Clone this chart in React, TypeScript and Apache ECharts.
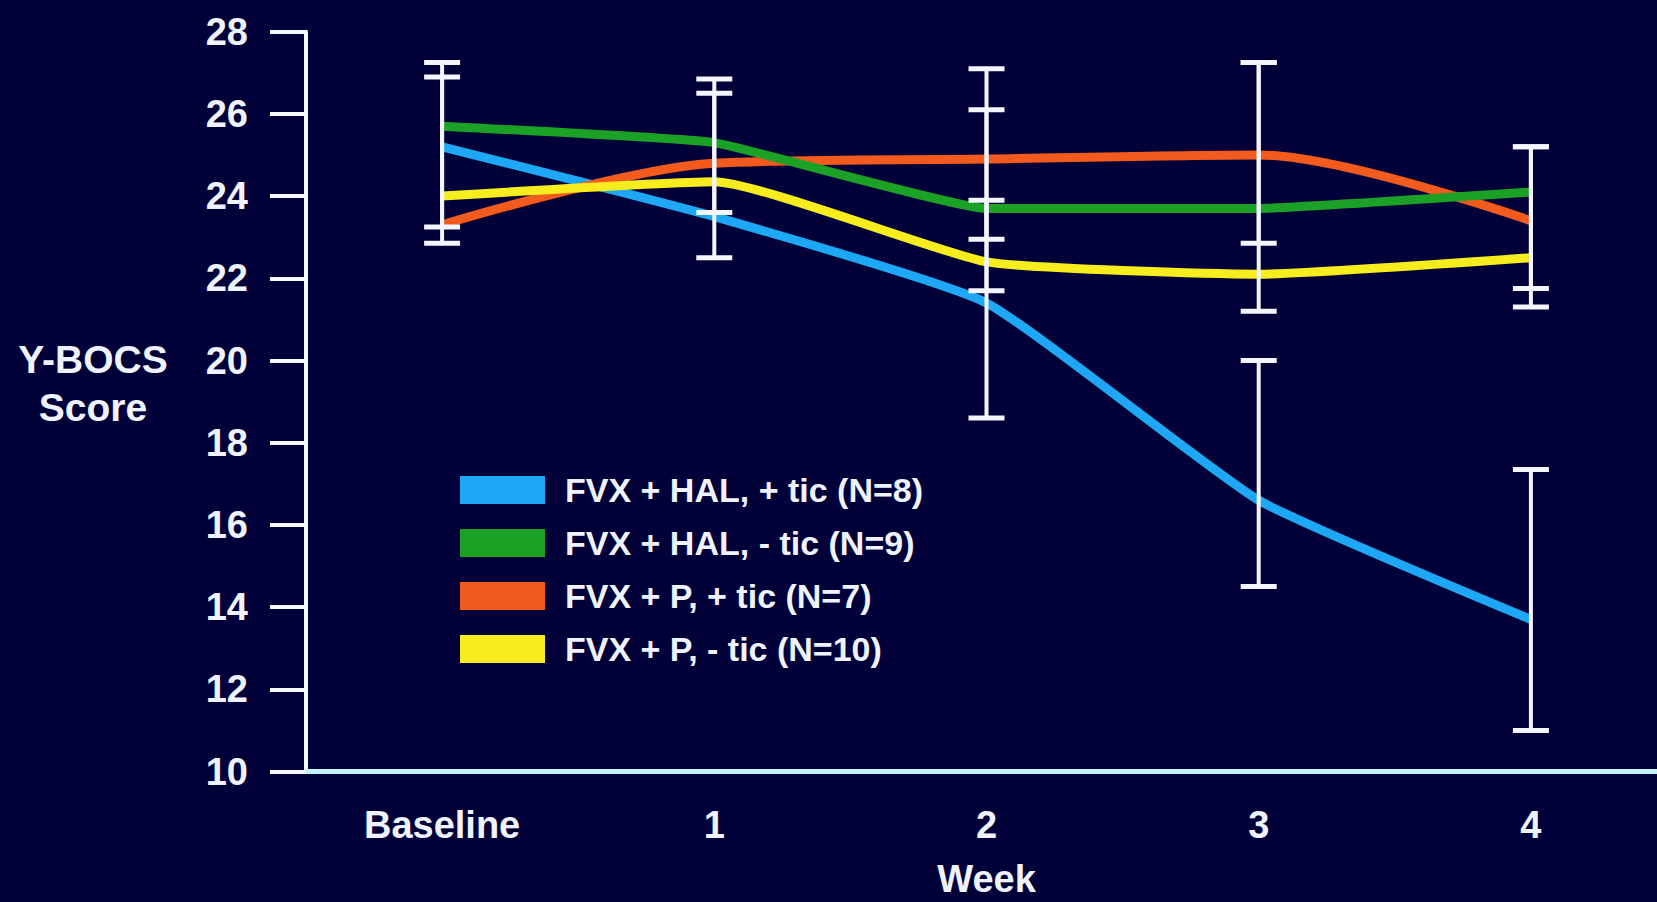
import React, { useEffect, useRef } from "react";
import * as echarts from "echarts";

const weeks = ["Baseline", "1", "2", "3", "4"];
const yTicks = [10, 12, 14, 16, 18, 20, 22, 24, 26, 28];

const seriesNames = [
  "FVX + HAL, + tic (N=8)",
  "FVX + HAL, - tic (N=9)",
  "FVX + P, + tic (N=7)",
  "FVX + P, - tic (N=10)",
];
const halTic = [25.2, 23.5, 21.4, 16.6, 13.7];
const halNoTic = [25.7, 25.3, 23.7, 23.7, 24.1];
const placeboTic = [23.3, 24.8, 24.9, 25.0, 23.4];
const placeboNoTic = [24.0, 24.35, 22.4, 22.1, 22.5];

// error bars: [week index, low, high]
const errorBars = [
  [0, 22.85, 27.25],
  [0, 23.25, 26.9],
  [1, 22.5, 26.85],
  [1, 23.6, 26.5],
  [2, 18.6, 23.9],
  [2, 21.7, 26.1],
  [2, 22.95, 27.1],
  [3, 21.2, 27.25],
  [3, 22.85, 27.25],
  [3, 14.5, 20.0],
  [4, 21.3, 25.2],
  [4, 21.75, 25.2],
  [4, 11.0, 17.35],
];

const colors = ["#1ea7f4", "#1ba126", "#f25a1e", "#f6ec1e"];
const FONT = "'Liberation Sans', Arial, sans-serif";
const TEXT = "#eef3ff";

export default function App() {
  const ref = useRef<HTMLDivElement>(null);
  useEffect(() => {
    if (!ref.current) return;
    const chart = echarts.init(ref.current, undefined, { renderer: "svg" });
    const values = [halTic, halNoTic, placeboTic, placeboNoTic];
    const zs = [2, 4, 3, 5];
    const smooths = [0.15, 0.1, 0.3, 0.15];
    chart.setOption({
      animation: false,
      backgroundColor: "#020038",
      grid: {
        left: 306,
        right: -10,
        top: 31.7,
        bottom: 130.5,
        containLabel: false,
        outerBoundsMode: "none",
      },
      legend: {
        orient: "vertical",
        left: 455,
        top: 468,
        itemWidth: 85,
        itemHeight: 28,
        itemGap: 19,
        icon: "rect",
        selectedMode: false,
        data: seriesNames,
        textStyle: {
          color: TEXT,
          fontSize: 34,
          fontWeight: "bold",
          fontFamily: FONT,
          lineHeight: 28,
          padding: [0, 0, 0, 15],
        },
      },
      xAxis: {
        type: "category",
        data: weeks,
        boundaryGap: true,
        name: "Week",
        nameLocation: "middle",
        nameGap: 88,
        nameTextStyle: { color: TEXT, fontSize: 38, lineHeight: 38, fontWeight: "bold", fontFamily: FONT },
        axisLine: { show: true, lineStyle: { color: "#c4f2ff", width: 5 } },
        axisTick: { show: false },
        axisLabel: { color: TEXT, fontSize: 38, fontWeight: "bold", fontFamily: FONT, margin: 34 },
        splitLine: { show: false },
      },
      yAxis: {
        type: "value",
        min: yTicks[0],
        max: yTicks[yTicks.length - 1],
        interval: 2,
        axisLine: { show: true, lineStyle: { color: "#f4f8ff", width: 4 } },
        axisTick: { show: true, length: 36, lineStyle: { color: "#f4f8ff", width: 4 } },
        axisLabel: { color: TEXT, fontSize: 38, fontWeight: "bold", fontFamily: FONT, margin: 58 },
        splitLine: { show: false },
      },
      graphic: [
        {
          type: "text",
          x: 93,
          y: 359,
          style: {
            text: "Y-BOCS",
            fill: TEXT,
            font: `bold 39px ${FONT}`,
            textAlign: "center",
            textVerticalAlign: "middle",
            align: "center",
            verticalAlign: "middle",
          },
        },
        {
          type: "text",
          x: 93,
          y: 407,
          style: {
            text: "Score",
            fill: TEXT,
            font: `bold 39px ${FONT}`,
            textAlign: "center",
            textVerticalAlign: "middle",
            align: "center",
            verticalAlign: "middle",
          },
        },
      ],
      series: [
        ...seriesNames.map((name, i) => ({
          name,
          type: "line",
          data: values[i],
          z: zs[i],
          smooth: smooths[i],
          symbol: "none",
          lineStyle: { color: colors[i], width: 9 },
          itemStyle: { color: colors[i] },
        })),
        {
          name: "errors",
          type: "custom",
          z: 10,
          data: errorBars,
          encode: { x: 0, y: [1, 2] },
          renderItem: (_params: any, api: any) => {
            const idx = api.value(0);
            const lo = api.coord([idx, api.value(1)]);
            const hi = api.coord([idx, api.value(2)]);
            const hw = 18;
            const st = { stroke: "#f4f6ff", lineWidth: 4 };
            const cap = { stroke: "#f4f6ff", lineWidth: 5 };
            return {
              type: "group",
              children: [
                { type: "line", shape: { x1: lo[0], y1: lo[1], x2: hi[0], y2: hi[1] }, style: st },
                { type: "line", shape: { x1: lo[0] - hw, y1: lo[1], x2: lo[0] + hw, y2: lo[1] }, style: cap },
                { type: "line", shape: { x1: hi[0] - hw, y1: hi[1], x2: hi[0] + hw, y2: hi[1] }, style: cap },
              ],
            };
          },
        },
      ],
    });
    return () => chart.dispose();
  }, []);
  return (
    <div
      ref={ref}
      style={{ position: "fixed", left: 0, top: 0, width: 1657, height: 902 }}
    />
  );
}
